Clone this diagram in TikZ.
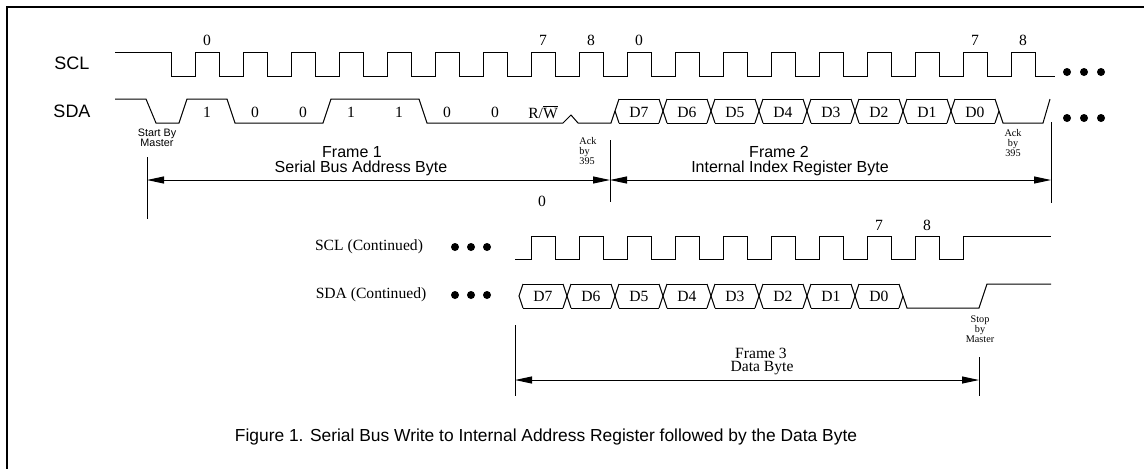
\documentclass[tikz,border=0pt]{standalone}
\usepackage{fontspec}
\setmainfont{Liberation Serif}
\setsansfont{Liberation Sans}
\usetikzlibrary{arrows.meta}
\begin{document}
\begin{tikzpicture}[x=0.5pt,y=-0.5pt,
  wave/.style={line width=0.5pt,line join=miter},
  sig/.style={font=\sffamily\fontsize{9}{10}\selectfont,inner sep=0pt},
  fr/.style={font=\sffamily\fontsize{8}{9}\selectfont,inner sep=0pt},
  bit/.style={font=\fontsize{7.8}{9}\selectfont,inner sep=0pt},
  tinyser/.style={font=\fontsize{5.1}{5}\selectfont,inner sep=0pt},
  tinysans/.style={font=\sffamily\fontsize{5.4}{5}\selectfont,inner sep=0pt,align=center},
  captxt/.style={font=\sffamily\fontsize{8.7}{10}\selectfont,inner sep=0pt},
  markerline/.style={line width=0.5pt},
  dimarrow/.style={line width=0.5pt,{Triangle[length=8.5pt,width=3.5pt]}-{Triangle[length=8.5pt,width=3.5pt]}},
  dotfill/.style={fill=black}]
\useasboundingbox (0,0) rectangle (1144,468);
\begin{scope}
\clip (0,0) rectangle (1144,468);
\draw[line width=1pt] (7,7) rectangle (1180,500);
\end{scope}

% ---------- signal names ----------
\node[sig] (scl) at (72,63) {SCL};
\node[sig] (sda) at (72,111) {SDA};

% ---------- SCL top ----------
\draw[wave] (115,52) -- (171,52) -- (171,76)
  \foreach \k in {0,...,17}{ -- ({195+48*\k},76) -- ({195+48*\k},52) -- ({219+48*\k},52) -- ({219+48*\k},76) }
  -- (1055,76);
\node[bit] (c0) at (207,40) {0};
\node[bit] (c7) at (543,40) {7};
\node[bit] (c8) at (591,40) {8};
\node[bit] (d0) at (639,40) {0};
\node[bit] (d7) at (975,40) {7};
\node[bit] (d8) at (1023,40) {8};

% ---------- SDA top, frame 1 ----------
\draw[wave] (115,99) -- (146,99) -- (156,123) -- (179,123) -- (187,99) -- (227,99)
  -- (235,123) -- (323,123) -- (331,99) -- (419,99) -- (427,123) -- (563,123)
  -- (571,115) -- (578,123) -- (611,123) -- (619,99);
\draw[wave] (615,111) -- (619,123);
\foreach \b [count=\i from 0] in {1,0,0,1,1,0,0}
  \node[bit] (b\i) at ({207+48*\i},112) {\b};
\node[bit] (rw) at (543,112) {R/$\overline{\hbox{W}}$};

% ---------- SDA top, frame 2 ----------
\foreach \i in {0,...,7}{
  \draw[wave] ({619+48*\i},99) -- ({659+48*\i},99);
  \draw[wave] ({619+48*\i},123) -- ({659+48*\i},123);
}
\foreach \i in {0,...,6}{
  \draw[wave] ({659+48*\i},99) -- ({667+48*\i},123);
  \draw[wave] ({659+48*\i},123) -- ({667+48*\i},99);
}
\draw[wave] (995,99) -- (1003,123) -- (1043,123) -- (1050,99);
\draw[wave] (995,123) -- (999,111);
\foreach \d [count=\i from 0] in {7,6,5,4,3,2,1,0}
  \node[bit] (t\i) at ({639+48*\i},112) {D\d};

% dots top
\foreach \x in {1067,1084,1101}{
  \fill[dotfill] (\x,72) circle (4);
  \fill[dotfill] (\x,118) circle (4);
}

% ---------- small notes ----------
\node[tinysans] (start) at (157,138) {Start By\\Master};
\node[tinyser,anchor=west,align=left] (ack1) at (579,151) {Ack\\by\\395};
\node[tinyser,align=center] (ack2) at (1013,143) {Ack\\by\\395};

% ---------- frame 1 / frame 2 dimensions ----------
\coordinate (v1t) at (147,157); \coordinate (v1b) at (147,219);
\coordinate (v2t) at (610,140); \coordinate (v2b) at (610,202);
\coordinate (v3t) at (1051,122); \coordinate (v3b) at (1051,203);
\draw[markerline] (v1t) -- (v1b);
\draw[markerline] (v2t) -- (v2b);
\draw[markerline] (v3t) -- (v3b);
\coordinate (a1) at (147,180); \coordinate (a2) at (610,180); \coordinate (a3) at (1051,180);
\draw[dimarrow] (a2) -- (a1);
\draw[dimarrow] (a2) -- (a3);
\node[fr] (f1) at (352,152) {Frame 1};
\node[fr] (f1b) at (361,168) {Serial Bus Address Byte};
\node[fr] (f2) at (779,152) {Frame 2};
\node[fr] (f2b) at (790,168) {Internal Index Register Byte};

% ---------- continued ----------
\node[bit] (sclc) at (369,247) {SCL (Continued)};
\node[bit] (sdac) at (371,295) {SDA (Continued)};
\foreach \x in {455,471,487}{
  \fill[dotfill] (\x,247) circle (4);
  \fill[dotfill] (\x,295) circle (4);
}
\node[bit] (e0) at (542,201) {0};
\node[bit] (e7) at (879,225) {7};
\node[bit] (e8) at (927,225) {8};
\draw[wave] (515,259)
  \foreach \k in {0,...,8}{ -- ({531+48*\k},259) -- ({531+48*\k},236) -- ({555+48*\k},236) -- ({555+48*\k},259) }
  -- (963,259) -- (963,236) -- (1051,236);

% SDA continued
\draw[wave] (523,284) -- (519,296) -- (523,308);
\foreach \i in {0,...,7}{
  \draw[wave] ({523+48*\i},284) -- ({563+48*\i},284);
  \draw[wave] ({523+48*\i},308) -- ({563+48*\i},308);
}
\foreach \i in {0,...,6}{
  \draw[wave] ({563+48*\i},284) -- ({571+48*\i},308);
  \draw[wave] ({563+48*\i},308) -- ({571+48*\i},284);
}
\draw[wave] (899,284) -- (907,308) -- (979,308) -- (987,284) -- (1051,284);
\draw[wave] (899,308) -- (903,296);
\foreach \d [count=\i from 0] in {7,6,5,4,3,2,1,0}
  \node[bit] (u\i) at ({543+48*\i},296) {D\d};

\node[tinyser,align=center] (stop) at (980,329) {Stop\\by\\Master};

% frame 3
\coordinate (w1t) at (515,325); \coordinate (w1b) at (515,396);
\coordinate (w2t) at (979,357); \coordinate (w2b) at (979,396);
\draw[markerline] (w1t) -- (w1b);
\draw[markerline] (w2t) -- (w2b);
\coordinate (g1) at (515,380); \coordinate (g2) at (979,380);
\draw[dimarrow] (g1) -- (g2);
\node[bit] (f3) at (761,353) {Frame 3};
\node[bit] (f3b) at (762,368) {Data Byte};

% caption
\node[captxt] (caption) at (546,437) {Figure 1. Serial Bus Write to Internal Address Register followed by the Data Byte};
\end{tikzpicture}
\end{document}
